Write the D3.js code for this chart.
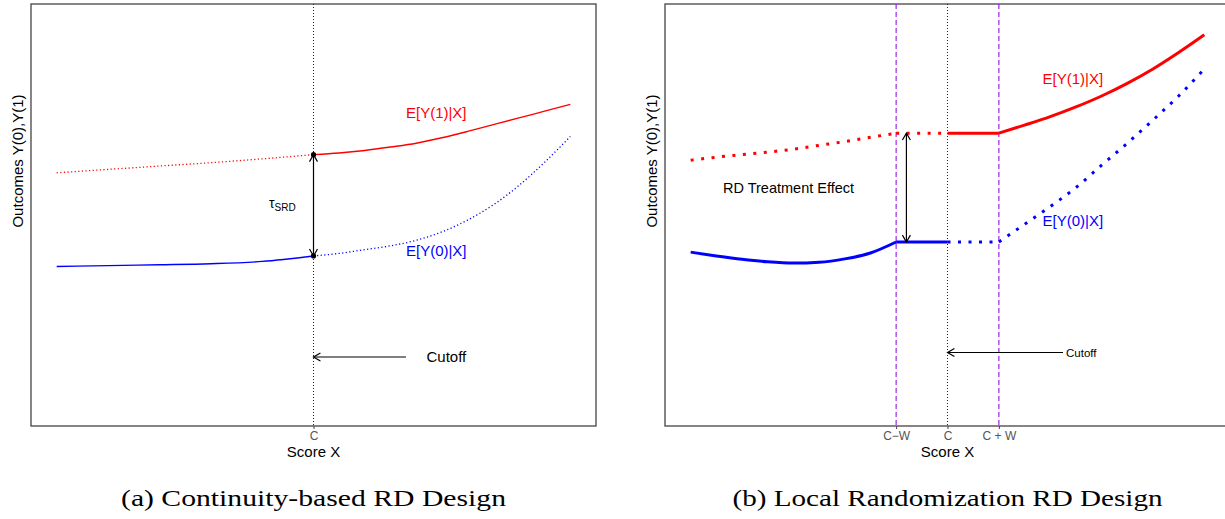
<!DOCTYPE html>
<html>
<head>
<meta charset="utf-8">
<script src="https://cdn.jsdelivr.net/npm/d3@7"></script>
<style>
  body { margin: 0; background: #fff; }
  text { font-family: "Liberation Sans", Arial, sans-serif; }
</style>
</head>
<body>
<svg id="chart" width="1225" height="519"></svg>
<script>
// ---- data: panel (a) continuity-based ----
const aLeftX = [-1, -0.8, -0.6, -0.4, -0.2, 0];
const aRightX = [0, 0.1, 0.2, 0.3, 0.4, 0.5, 0.6, 0.7, 0.8, 0.9, 1];
const aTreatLeft = [60.0, 60.8, 61.6, 62.4, 63.3, 64.3];
const aControlLeft = [37.8, 38.0, 38.2, 38.45, 39.0, 40.3];
const aTreatRight = [64.3, 64.7, 65.3, 66.1, 67.0, 68.3, 69.8, 71.4, 73.0, 74.6, 76.2];
const aControlRight = [40.3, 40.9, 41.8, 42.7, 44.0, 46.0, 48.8, 52.4, 57.0, 62.5, 68.6];

// ---- data: panel (b) local randomization ----
const bLeftX = [-1, -0.9, -0.8, -0.7, -0.6, -0.5, -0.4, -0.3, -0.2];
const bInLeftX = [-0.2, 0];
const bInRightX = [0, 0.2];
const bRightX = [0.2, 0.3, 0.4, 0.5, 0.6, 0.7, 0.8, 0.9, 1];
const bTreatLeft = [63.0, 63.7, 64.3, 64.9, 65.6, 66.5, 67.4, 68.4, 69.4];
const bControlLeft = [41.2, 40.3, 39.5, 38.9, 38.6, 38.8, 39.6, 41.0, 43.6];
const bTreatIn = [69.4, 69.4];
const bControlIn = [43.6, 43.6];
const bTreatRight = [69.4, 71.3, 73.3, 75.6, 78.2, 81.2, 84.6, 88.5, 92.7];
const bControlRight = [43.6, 47.8, 52.0, 56.5, 61.8, 67.0, 72.5, 78.2, 84.6];

const cutoff = 0;
const halfWindow = 0.2;
const ticksA = [cutoff];
const tickLabelsA = ['C'];
const ticksB = [cutoff - halfWindow, cutoff, cutoff + halfWindow];
const tickLabelsB = ['C\u2212W', 'C', 'C + W'];
const curveLabels = ['E[Y(1)|X]', 'E[Y(0)|X]'];
const captions = ['(a) Continuity-based RD Design', '(b) Local Randomization RD Design'];

const RED = '#ff0000', BLUE = '#0000ff', PURPLE = '#a020f0';

const svg = d3.select('#chart');

function makePanel(left) {
    let p = {};
    p.left = left;
    p.top = 4;
    p.width = 565;
    p.height = 422;
    p.x = d3.scaleLinear().domain([-1.1, 1.1]).range([left, left + p.width]);
    p.y = d3.scaleLinear().domain([0, 100]).range([p.top + p.height, p.top]);
    p.g = svg.append('g');
    return p;
}

function drawCurve(p, xs, ys, color, width, dash) {
    let line = d3.line()
        .x(d => p.x(d[0]))
        .y(d => p.y(d[1]))
        .curve(d3.curveMonotoneX);
    p.g.append('path')
        .attr('d', line(xs.map((v, i) => [v, ys[i]])))
        .attr('fill', 'none')
        .attr('stroke', color)
        .attr('stroke-width', width)
        .attr('stroke-dasharray', dash ? dash : null);
}

function vLine(p, xv, color, dash, width) {
    p.g.append('line')
        .attr('x1', p.x(xv)).attr('x2', p.x(xv))
        .attr('y1', p.top).attr('y2', p.top + p.height)
        .attr('stroke', color)
        .attr('stroke-width', width)
        .attr('stroke-dasharray', dash);
}

// open "V" arrow head at (x2,y2) pointing away from (x1,y1)
function arrowHead(g, x1, y1, x2, y2, len) {
    let a = Math.atan2(y2 - y1, x2 - x1);
    let s = Math.PI / 6;
    let pts = [
        [x2 - len * Math.cos(a - s), y2 - len * Math.sin(a - s)],
        [x2, y2],
        [x2 - len * Math.cos(a + s), y2 - len * Math.sin(a + s)]
    ];
    g.append('path')
        .attr('d', d3.line()(pts))
        .attr('fill', 'none')
        .attr('stroke', '#000')
        .attr('stroke-width', 1.2);
}

function arrow(g, x1, y1, x2, y2, both) {
    g.append('line')
        .attr('x1', x1).attr('y1', y1).attr('x2', x2).attr('y2', y2)
        .attr('stroke', '#000').attr('stroke-width', 1.2);
    arrowHead(g, x1, y1, x2, y2, 8);
    if (both) arrowHead(g, x2, y2, x1, y1, 8);
}

function frame(p, ticks, labels) {
    p.g.append('rect')
        .attr('x', p.left).attr('y', p.top)
        .attr('width', p.width).attr('height', p.height)
        .attr('fill', 'none')
        .attr('stroke', '#444')
        .attr('stroke-width', 1.3);

    let axis = d3.axisBottom(p.x)
        .tickValues(ticks)
        .tickFormat((d, i) => labels[i])
        .tickSize(3)
        .tickPadding(2);
    let ag = p.g.append('g')
        .attr('transform', 'translate(0,' + (p.top + p.height) + ')')
        .call(axis);
    ag.select('.domain').remove();
    ag.selectAll('.tick line').attr('stroke', '#444');
    ag.selectAll('.tick text')
        .attr('fill', '#555')
        .style('font-family', '"Liberation Sans", Arial, sans-serif')
        .style('font-size', '12px');

    p.g.append('text')
        .text('Score X')
        .attr('x', p.x(cutoff))
        .attr('y', 457)
        .attr('text-anchor', 'middle')
        .attr('font-size', 15);

    p.g.append('text')
        .text('Outcomes Y(0),Y(1)')
        .attr('transform', 'translate(' + (p.left - 13.5) + ',161) rotate(-90)')
        .attr('dy', '0.35em')
        .attr('text-anchor', 'middle')
        .attr('font-size', 15);
}

// ---------------- panel (a) ----------------
let pa = makePanel(31);
frame(pa, ticksA, tickLabelsA);
vLine(pa, cutoff, '#222', '1,2', 1);

drawCurve(pa, aLeftX, aTreatLeft, RED, 1.3, '1.2,2.4');
drawCurve(pa, aRightX, aTreatRight, RED, 1.4);
drawCurve(pa, aLeftX, aControlLeft, BLUE, 1.4);
drawCurve(pa, aRightX, aControlRight, BLUE, 1.3, '1.2,2.4');

let topA = aTreatRight[0], botA = aControlRight[0];
arrow(pa.g, pa.x(cutoff), pa.y(botA), pa.x(cutoff), pa.y(topA), true);
[topA, botA].forEach(v => {
    pa.g.append('circle')
        .attr('cx', pa.x(cutoff)).attr('cy', pa.y(v))
        .attr('r', 2.6).attr('fill', '#000');
});

let tau = pa.g.append('text')
    .attr('x', 269).attr('y', 208)
    .attr('font-size', 14);
tau.append('tspan').text('\u03c4');
tau.append('tspan').text('SRD').attr('font-size', 10).attr('dy', 3);

pa.g.append('text').text(curveLabels[0])
    .attr('x', pa.x(0.36)).attr('y', 118)
    .attr('fill', RED).attr('font-size', 15);
pa.g.append('text').text(curveLabels[1])
    .attr('x', pa.x(0.36)).attr('y', 256)
    .attr('fill', BLUE).attr('font-size', 15);

arrow(pa.g, pa.x(0.36), 357, pa.x(cutoff), 357, false);
pa.g.append('text').text('Cutoff')
    .attr('x', pa.x(0.44)).attr('y', 362)
    .attr('font-size', 15);

// ---------------- panel (b) ----------------
let pb = makePanel(665);
frame(pb, ticksB, tickLabelsB);
vLine(pb, cutoff, '#222', '1,2', 1);
vLine(pb, cutoff - halfWindow, PURPLE, '5,3', 1.2);
vLine(pb, cutoff + halfWindow, PURPLE, '5,3', 1.2);

drawCurve(pb, bLeftX, bTreatLeft, RED, 3, '3,7.5');
drawCurve(pb, bInLeftX, bTreatIn, RED, 3, '3,7.5');
drawCurve(pb, bInRightX, bTreatIn, RED, 3);
drawCurve(pb, bRightX, bTreatRight, RED, 3);

drawCurve(pb, bLeftX, bControlLeft, BLUE, 3);
drawCurve(pb, bInLeftX, bControlIn, BLUE, 3);
drawCurve(pb, bInRightX, bControlIn, BLUE, 3, '3,7.5');
drawCurve(pb, bRightX, bControlRight, BLUE, 3, '3,7.5');

let armX = pb.x(-0.16);
arrow(pb.g, armX, pb.y(bControlIn[0]), armX, pb.y(bTreatIn[0]), true);

pb.g.append('text').text('RD Treatment Effect')
    .attr('x', 723).attr('y', 193)
    .attr('font-size', 14.5);

pb.g.append('text').text(curveLabels[0])
    .attr('x', pb.x(0.37)).attr('y', 84)
    .attr('fill', RED).attr('font-size', 15);
pb.g.append('text').text(curveLabels[1])
    .attr('x', pb.x(0.37)).attr('y', 226)
    .attr('fill', BLUE).attr('font-size', 15);

arrow(pb.g, 1063, 352.5, pb.x(cutoff), 352.5, false);
pb.g.append('text').text('Cutoff')
    .attr('x', 1066).attr('y', 356.5)
    .attr('font-size', 11.5);

// ---------------- captions (LaTeX-style, centred under each panel) ----------------
[[pa, captions[0], 385], [pb, captions[1], 430]].forEach(c => {
    svg.append('text')
        .text(c[1])
        .attr('x', c[0].x(cutoff)).attr('y', 506)
        .attr('text-anchor', 'middle')
        .attr('textLength', c[2])
        .attr('lengthAdjust', 'spacingAndGlyphs')
        .style('font-family', '"Liberation Serif", "Times New Roman", serif')
        .style('font-size', '24px');
});
</script>
</body>
</html>
